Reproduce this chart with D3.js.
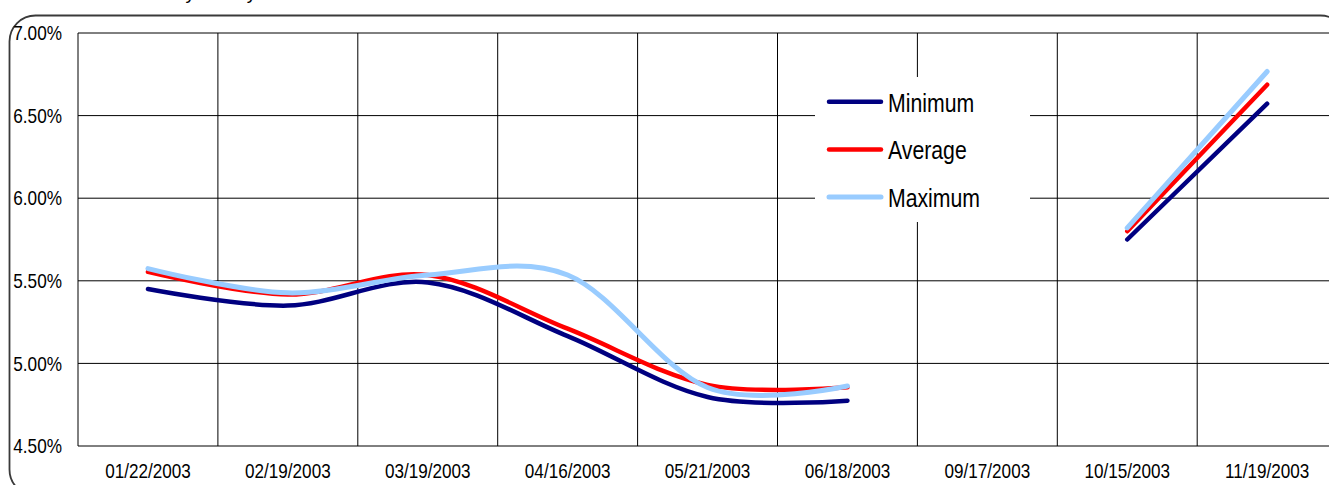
<!DOCTYPE html>
<html>
<head>
<meta charset="utf-8">
<script src="https://cdn.jsdelivr.net/npm/d3@7"></script>
<style>
  html, body { margin: 0; padding: 0; background: #fff; overflow: hidden; }
  svg { display: block; }
  text { font-family: "Liberation Sans", Arial, sans-serif; fill: #000; }
</style>
</head>
<body>
<svg id="chart" width="1329" height="485"></svg>
<script>
// Auction dates along the bottom axis
const categories = ["01/22/2003", "02/19/2003", "03/19/2003", "04/16/2003", "05/21/2003",
                    "06/18/2003", "09/17/2003", "10/15/2003", "11/19/2003"];

// Yields in percent; null where no auction result was recorded
const minimum = [5.45, 5.35, 5.49, 5.165, 4.797, 4.774, null, 5.75, 6.572];
const average = [5.554, 5.417, 5.535, 5.21, 4.87, 4.855, null, 5.80, 6.687];
const maximum = [5.574, 5.427, 5.535, 5.535, 4.854, 4.863, null, 5.82, 6.767];

const seriesNames = ["Minimum", "Average", "Maximum"];
const yTicks = [4.5, 5.0, 5.5, 6.0, 6.5, 7.0];

const svg = d3.select("#chart");

const plot = { left: 78, top: 33, bottom: 446, band: 139.9 };
const x = d3.scaleBand()
  .domain(categories)
  .range([plot.left, plot.left + plot.band * categories.length])
  .padding(0);
const y = d3.scaleLinear().domain([4.5, 7.0]).range([plot.bottom, plot.top]);
const fmt = d => d.toFixed(2) + "%";

// Rounded outer frame
svg.append("rect")
  .attr("x", 9.5).attr("y", 15.5)
  .attr("width", 1337).attr("height", 480)
  .attr("rx", 26).attr("ry", 26)
  .attr("fill", "none")
  .attr("stroke", "#3a3a3a")
  .attr("stroke-width", 1.8);

// Title (sits mostly above the visible area)
svg.append("text")
  .attr("x", 133).attr("y", -0.6)
  .attr("font-size", 19)
  .text("Weekly survey");

// Grid
const grid = svg.append("g");
grid.selectAll("line.h")
  .data(yTicks)
  .join("line")
  .attr("x1", plot.left).attr("x2", x.range()[1])
  .attr("y1", d => y(d)).attr("y2", d => y(d))
  .attr("stroke", "#000").attr("stroke-width", 1);
const xEdges = categories.map(c => x(c)).concat([x.range()[1]]);
grid.selectAll("line.v")
  .data(xEdges)
  .join("line")
  .attr("x1", d => d).attr("x2", d => d)
  .attr("y1", plot.top).attr("y2", plot.bottom)
  .attr("stroke", "#000").attr("stroke-width", 1);

// Axes (labels only)
const xAxis = svg.append("g")
  .attr("transform", `translate(0,${plot.bottom})`)
  .call(d3.axisBottom(x).tickSize(0).tickPadding(0));
xAxis.select(".domain").remove();
xAxis.selectAll("text")
  .attr("font-family", "Liberation Sans, Arial, sans-serif")
  .attr("font-size", 21)
  .attr("dy", null)
  .attr("y", 32.3)
  .attr("transform", "scale(0.815,1)");

const ySx = 0.86;
const yAxis = svg.append("g")
  .attr("transform", `translate(${plot.left},0)`)
  .call(d3.axisLeft(y).tickValues(yTicks).tickFormat(fmt).tickSize(0).tickPadding(0));
yAxis.select(".domain").remove();
yAxis.selectAll("text")
  .attr("font-family", "Liberation Sans, Arial, sans-serif")
  .attr("font-size", 20)
  .attr("dy", null)
  .attr("x", -16 / ySx)
  .attr("y", 6.6)
  .attr("transform", `scale(${ySx},1)`);

// Legend backdrop
const legend = svg.append("g");
legend.append("rect")
  .attr("x", 815).attr("y", 77)
  .attr("width", 215).attr("height", 145)
  .attr("fill", "#fff");

const colors = { Minimum: "#000080", Average: "#ff0000", Maximum: "#99ccff" };
const widths = { Minimum: 4.5, Average: 4.5, Maximum: 5 };
const seriesData = { Minimum: minimum, Average: average, Maximum: maximum };

const line = d3.line()
  .defined(d => d.v !== null)
  .x(d => x(d.c) + x.bandwidth() / 2)
  .y(d => y(d.v))
  .curve(d3.curveCardinal.tension(0));

svg.append("g")
  .selectAll("path")
  .data(seriesNames)
  .join("path")
  .attr("d", n => line(categories.map((c, i) => ({ c, v: seriesData[n][i] }))))
  .attr("fill", "none")
  .attr("stroke", n => colors[n])
  .attr("stroke-width", n => widths[n])
  .attr("stroke-linecap", "round")
  .attr("stroke-linejoin", "round");

// Legend entries
const entry = legend.selectAll("g.entry")
  .data(seriesNames)
  .join("g")
  .attr("transform", (d, i) => `translate(0,${101.7 + i * 47.7})`);
entry.append("line")
  .attr("x1", 829).attr("x2", 881)
  .attr("y1", 0).attr("y2", 0)
  .attr("stroke", d => colors[d])
  .attr("stroke-width", d => widths[d])
  .attr("stroke-linecap", "round");
entry.append("text")
  .attr("transform", "translate(888,10) scale(0.85,1)")
  .attr("font-size", 25)
  .text(d => d);
</script>
</body>
</html>
